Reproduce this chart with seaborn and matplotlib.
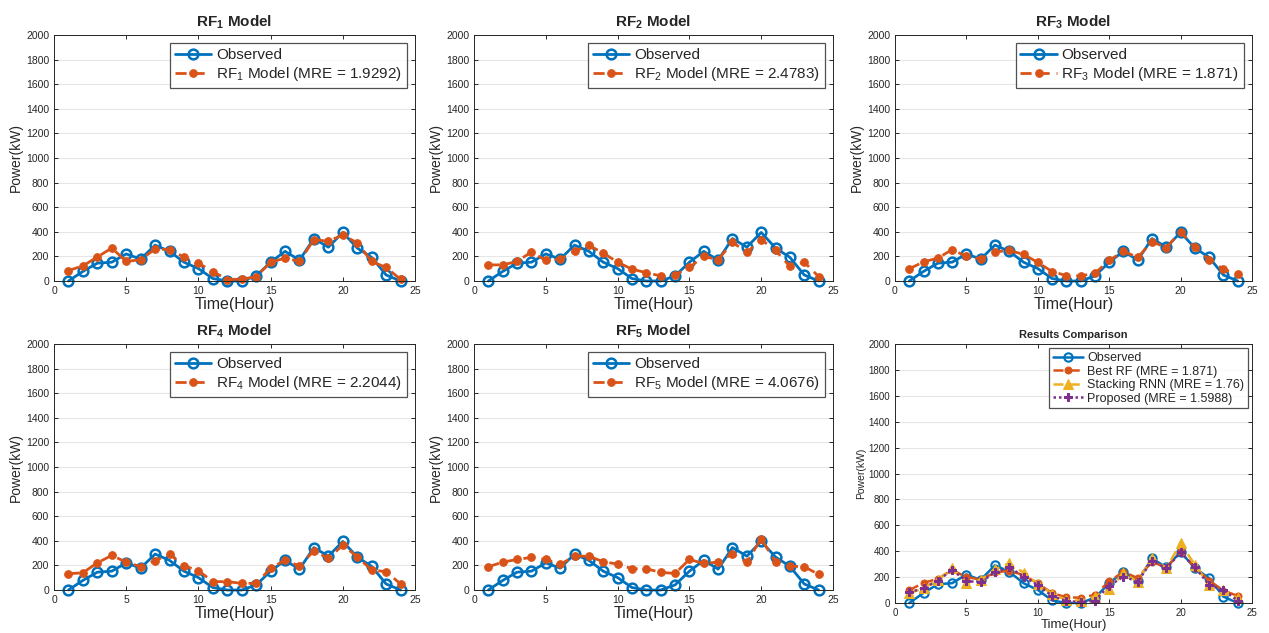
import seaborn as sns
import matplotlib.pyplot as plt
import numpy as np
import pandas as pd

sns.set_style("ticks")
plt.rcParams['font.family'] = ['Liberation Sans', 'DejaVu Sans']
plt.rcParams['mathtext.fontset'] = 'custom'
plt.rcParams['mathtext.rm'] = 'Liberation Sans'
plt.rcParams['mathtext.bf'] = 'Liberation Sans:bold'

# Saat ve ölçülen güç
hours = list(range(1, 25))
observed = [0, 78, 145, 153, 220, 178, 292, 241, 153, 101, 20, 0,
            0, 41, 153, 241, 170, 345, 275, 395, 268, 192, 49, 0]

# RF modelleri
rf1 = [85, 123, 195, 268, 159, 173, 260, 255, 195, 145, 77, 12,
       15, 35, 153, 186, 159, 337, 323, 375, 310, 159, 110, 14]
rf2 = [131, 131, 159, 236, 167, 178, 241, 290, 227, 153, 96, 68,
       41, 49, 110, 200, 173, 315, 233, 337, 249, 118, 153, 36]
rf3 = [99, 156, 186, 255, 200, 181, 236, 249, 216, 151, 77, 44,
       41, 63, 167, 241, 192, 320, 271, 400, 274, 173, 96, 55]
rf4 = [132, 140, 221, 281, 227, 189, 238, 292, 197, 157, 68, 68,
       54, 54, 176, 243, 194, 319, 257, 365, 270, 162, 149, 49]
rf5 = [189, 227, 248, 265, 248, 208, 275, 275, 230, 211, 173, 173,
       143, 135, 248, 216, 227, 292, 224, 418, 227, 194, 189, 127]
rf_mre = ["1.9292", "2.4783", "1.871", "2.2044", "4.0676"]

# Karşılaştırma
stacking_rnn = [75, 114, 178, 268, 157, 178, 260, 307, 235, 147, 70, 23,
                18, 49, 111, 230, 165, 351, 268, 462, 294, 139, 100, 36]
proposed = [83, 114, 173, 255, 170, 160, 237, 276, 204, 139, 54, 15,
            8, 18, 134, 204, 165, 328, 268, 390, 276, 139, 100, 18]

BLUE, ORANGE, YELLOW, PURPLE = "#0072BD", "#D95319", "#EDB120", "#7E2F8E"

df = pd.DataFrame({"Hour": hours, "Observed": observed, "RF1": rf1, "RF2": rf2,
                   "RF3": rf3, "RF4": rf4, "RF5": rf5,
                   "RNN": stacking_rnn, "Proposed": proposed})

W, H = 1269, 633
fig = plt.figure(figsize=(W / 100, H / 100), dpi=100)


def pos(l, t, r, b):
    return [l / W, 1 - b / H, (r - l) / W, (b - t) / H]


def style_axes(ax, small=False):
    ax.set_xlim(0, 25)
    ax.set_ylim(0, 2000)
    ax.set_xticks(range(0, 26, 5))
    ax.set_yticks(range(0, 2001, 200))
    ax.tick_params(direction="in", top=True, right=True, length=3,
                   labelsize=7.5 if not small else 7, colors="#262626", width=0.7)
    ax.grid(axis="y", color="#e6e6e6", linewidth=0.8)
    for s in ax.spines.values():
        s.set_visible(True)
        s.set_color("#262626")
        s.set_linewidth(0.7)
    ax.set_axisbelow(True)
    ax.set_xlabel("Time(Hour)", fontsize=9.5 if small else 11.5, labelpad=1)
    ax.set_ylabel("Power(kW)", fontsize=7.5 if small else 10, labelpad=2)
    for ln in ax.get_lines():
        ln.set_clip_on(False)


rf_cols = ["RF1", "RF2", "RF3", "RF4", "RF5"]
boxes = [(54, 35, 415, 281), (474, 35, 833, 281), (895, 35, 1252, 281),
         (54, 344, 415, 590), (474, 344, 833, 590)]

for i, col in enumerate(rf_cols):
    ax = fig.add_axes(pos(*boxes[i]))
    n = i + 1
    sns.lineplot(data=df, x="Hour", y="Observed", ax=ax, color=BLUE,
                 linewidth=2, marker="o", markersize=7, markerfacecolor="none",
                 markeredgecolor=BLUE, markeredgewidth=1.8,
                 label="Observed")
    sns.lineplot(data=df, x="Hour", y=col, ax=ax, color=ORANGE,
                 linewidth=2, linestyle=(0, (4, 2.5)), marker="o", markersize=5.5,
                 markerfacecolor=ORANGE, markeredgecolor=ORANGE,
                 label=f"RF$_{n}$ Model (MRE = {rf_mre[i]})")
    style_axes(ax)
    ax.set_title(f"RF$_\\mathbf{{{n}}}$ Model", fontweight="bold",
                 fontsize=11, pad=6)
    leg = ax.legend(loc="upper right", fontsize=11, frameon=True,
                    fancybox=False, handlelength=2.4, borderaxespad=0.55,
                    borderpad=0.3, labelspacing=0.2, handletextpad=0.3)
    leg.get_frame().set_edgecolor("#262626")
    leg.get_frame().set_linewidth(0.9)

# Sonuç karşılaştırması
ax = fig.add_axes(pos(895, 344, 1252, 603))
sns.lineplot(data=df, x="Hour", y="Observed", ax=ax, color=BLUE,
             linewidth=1.8, marker="o", markersize=6, markerfacecolor="none",
             markeredgecolor=BLUE, markeredgewidth=1.5, label="Observed")
sns.lineplot(data=df, x="Hour", y="RF3", ax=ax, color=ORANGE,
             linewidth=1.8, linestyle=(0, (4, 2.5)), marker="o", markersize=5,
             markerfacecolor=ORANGE, markeredgecolor=ORANGE,
             label=f"Best RF (MRE = {rf_mre[2]})")
sns.lineplot(data=df, x="Hour", y="RNN", ax=ax, color=YELLOW,
             linewidth=1.8, linestyle=(0, (4, 2.5)), marker="^", markersize=7,
             markerfacecolor=YELLOW, markeredgecolor=YELLOW,
             label="Stacking RNN (MRE = 1.76)")
sns.lineplot(data=df, x="Hour", y="Proposed", ax=ax, color=PURPLE,
             linewidth=1.8, linestyle=(0, (1, 1.2)), marker="P", markersize=6,
             markerfacecolor=PURPLE, markeredgecolor=PURPLE,
             label="Proposed (MRE = 1.5988)")
style_axes(ax, small=True)
ax.set_title("Results Comparison", fontweight="bold", fontsize=8, pad=4)
leg = ax.legend(loc="upper right", fontsize=9, frameon=True, fancybox=False,
                handlelength=2.4, borderaxespad=0.35, borderpad=0.3,
                labelspacing=0.12, handletextpad=0.3)
leg.get_frame().set_edgecolor("#262626")
leg.get_frame().set_linewidth(0.9)

fig.savefig("out.png", dpi=100, facecolor="white")
